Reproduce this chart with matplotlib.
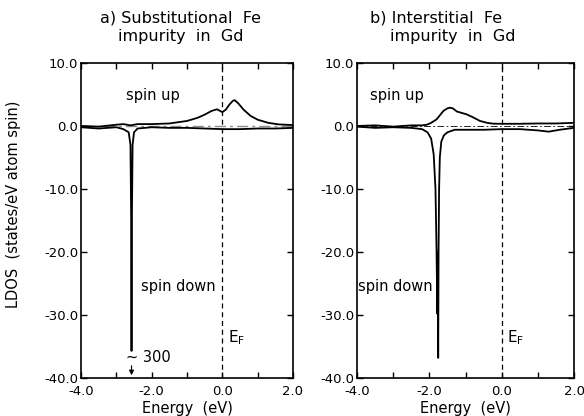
import numpy as np
import matplotlib
matplotlib.use("Agg")
from matplotlib import pyplot as plt
from matplotlib.ticker import MultipleLocator

plt.rcParams['font.family'] = 'DejaVu Sans'
plt.rcParams['axes.unicode_minus'] = False

# panel a: substitutional Fe
a_up_e = [-4.0, -3.5, -3.0, -2.8, -2.6, -2.4, -2.0, -1.5, -1.0, -0.7, -0.5, -0.3, -0.15,
          0.0, 0.1, 0.2, 0.3, 0.35, 0.45, 0.6, 0.8, 1.0, 1.3, 1.6, 2.0]
a_up = [0.0, -0.1, 0.2, 0.3, 0.1, 0.3, 0.3, 0.4, 0.8, 1.3, 1.8, 2.4, 2.65,
        2.2, 2.6, 3.4, 4.0, 4.1, 3.6, 2.6, 1.6, 1.0, 0.5, 0.25, 0.15]
a_dn_e = [-4.0, -3.5, -3.0, -2.8, -2.65, -2.6, -2.58, -2.57, -2.56, -2.54, -2.5, -2.4,
          -2.0, -1.5, -1.0, -0.5, 0.0, 0.5, 1.0, 1.5, 2.0]
a_dn = [-0.2, -0.4, -0.2, -0.5, -1.0, -3.0, -15.0, -35.7, -15.0, -3.0, -1.0, -0.4,
        -0.2, -0.3, -0.3, -0.4, -0.5, -0.5, -0.4, -0.4, -0.3]

# panel b: interstitial Fe
b_up_e = [-4.0, -3.5, -3.0, -2.5, -2.2, -2.07, -1.95, -1.8, -1.61, -1.5, -1.43, -1.35,
          -1.24, -0.97, -0.8, -0.6, -0.4, -0.24, 0.0, 0.5, 1.0, 1.5, 2.0]
b_up = [0.0, 0.1, -0.1, 0.1, 0.1, 0.2, 0.5, 1.05, 2.4, 2.8, 2.9, 2.8,
        2.3, 1.85, 1.4, 0.8, 0.5, 0.37, 0.35, 0.35, 0.4, 0.4, 0.5]
b_dn_e = [-4.0, -3.5, -3.0, -2.5, -2.2, -2.05, -1.95, -1.88, -1.83, -1.8, -1.78, -1.77,
          -1.755, -1.745, -1.73, -1.71, -1.67, -1.6, -1.5, -1.3, -1.0, -0.5, 0.0, 0.5,
          1.0, 1.3, 1.6, 2.0]
b_dn = [-0.1, -0.3, -0.2, -0.3, -0.5, -1.0, -2.0, -4.5, -10.0, -20.0, -29.8, -20.0,
        -36.8, -20.0, -10.0, -5.0, -2.5, -1.5, -1.0, -0.6, -0.6, -0.6, -0.5, -0.5,
        -0.7, -0.9, -0.6, -0.3]

fig = plt.figure(figsize=(5.84, 4.16), dpi=100)
ax_a = fig.add_axes([0.1387, 0.0913, 0.3630, 0.7573])
ax_b = fig.add_axes([0.6113, 0.0913, 0.3716, 0.7573])

for ax in (ax_a, ax_b):
    ax.set_xlim(-4.0, 2.0)
    ax.set_ylim(-40.0, 10.0)
    ax.xaxis.set_major_locator(MultipleLocator(2.0))
    ax.xaxis.set_minor_locator(MultipleLocator(1.0))
    ax.yaxis.set_major_locator(MultipleLocator(10.0))
    ax.xaxis.set_major_formatter(lambda v, p: '%.1f' % v)
    ax.yaxis.set_major_formatter(lambda v, p: '%.1f' % v)
    ax.tick_params(which='both', direction='in', top=True, right=True,
                   length=4, width=1, labelsize=9.5)
    ax.tick_params(axis='x', pad=5)
    ax.tick_params(axis='y', pad=2)
    for s in ax.spines.values():
        s.set_linewidth(1.2)
    ax.axvline(0.0, color='k', ls=(0, (4, 3)), lw=0.9)
    ax.set_xlabel('Energy  (eV)', fontsize=10.5, labelpad=0)
    ax.xaxis.set_label_coords(0.5, -0.072)
    ax.text(0.15, -33.6, r'E$_\mathregular{F}$', fontsize=11, va='center')

ax_a.axhline(0.0, color='0.55', ls=(0, (8, 3, 2, 3)), lw=1.0)
ax_a.plot(a_up_e, a_up, color='k', lw=1.3)
ax_a.plot(a_dn_e, a_dn, color='k', lw=1.3)
ax_a.annotate('', xy=(-2.57, -40.0), xytext=(-2.57, -37.6),
              arrowprops=dict(arrowstyle='-|>', color='k', lw=0.8, mutation_scale=7))
ax_a.text(-2.72, -36.7, '~ 300', fontsize=10.5, va='center')
ax_a.text(-1.96, 4.8, 'spin up', fontsize=10.5, ha='center', va='center')
ax_a.text(-1.25, -25.4, 'spin down', fontsize=10.5, ha='center', va='center')
ax_a.set_ylabel('LDOS  (states/eV atom spin)', fontsize=10.5)
ax_a.yaxis.set_label_coords(-0.285, 0.552)

ax_b.axhline(0.0, color='k', ls=(0, (8, 3, 2, 3)), lw=0.6)
ax_b.plot(b_up_e, b_up, color='k', lw=1.3)
ax_b.plot(b_dn_e, b_dn, color='k', lw=1.3)
ax_b.text(-2.9, 4.8, 'spin up', fontsize=10.5, ha='center', va='center')
ax_b.text(-2.95, -25.5, 'spin down', fontsize=10.5, ha='center', va='center')

fig.text(180 / 584, 1 - 18 / 416, 'a) Substitutional  Fe', fontsize=11.5,
         ha='center', va='center')
fig.text(181 / 584, 1 - 37 / 416, 'impurity  in  Gd', fontsize=11.5,
         ha='center', va='center')
fig.text(436 / 584, 1 - 18 / 416, 'b) Interstitial  Fe', fontsize=11.5,
         ha='center', va='center')
fig.text(453 / 584, 1 - 37 / 416, 'impurity  in  Gd', fontsize=11.5,
         ha='center', va='center')

plt.savefig('out.png', dpi=100)
